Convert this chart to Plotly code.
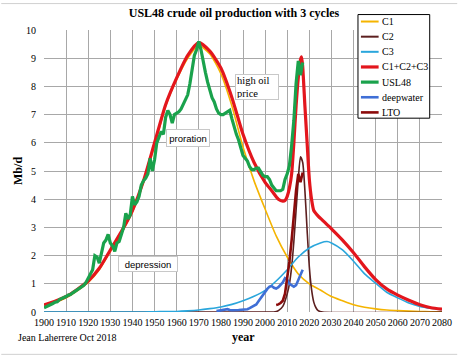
import plotly.graph_objects as go

# ---------------- data ----------------
yr5 = [1900, 1905, 1910, 1915, 1920, 1925, 1930, 1935, 1940, 1945, 1950, 1955, 1960, 1965,
       1970, 1975, 1980, 1985, 1990, 1995, 2000, 2005, 2010, 2015, 2020, 2025, 2030, 2035,
       2040, 2045, 2050, 2055, 2060, 2065, 2070, 2075, 2080]
c1 = [0.2, 0.33, 0.5, 0.75, 1.05, 1.5, 2.15, 2.8, 3.55, 4.6, 5.9, 7.3, 8.25, 9.0,
      9.45, 9.15, 8.45, 7.3, 5.85, 4.65, 3.65, 2.7, 1.95, 1.35, 1.0, 0.78, 0.55, 0.4,
      0.26, 0.17, 0.11, 0.07, 0.05, 0.03, 0.02, 0.01, 0.01]

c3_years = [1900, 1945, 1950, 1955, 1960, 1965, 1970, 1975, 1980, 1985, 1990, 1995, 2000,
            2005, 2010, 2015, 2020, 2025, 2028, 2030, 2035, 2040, 2045, 2050, 2055, 2060,
            2065, 2070, 2075, 2080]
c3 = [0.0, 0.0, 0.01, 0.015, 0.02, 0.04, 0.07, 0.12, 0.18, 0.27, 0.4, 0.56, 0.77,
      1.1, 1.5, 1.95, 2.27, 2.45, 2.5, 2.45, 2.2, 1.8, 1.35, 1.02, 0.7, 0.5,
      0.32, 0.2, 0.13, 0.08]

c2_years = [1900, 2000, 2004, 2006, 2008, 2010, 2011, 2012, 2013, 2014, 2015, 2016, 2017,
            2018, 2019, 2020, 2021, 2022, 2023, 2024, 2026, 2080]
c2 = [0.0, 0.0, 0.0, 0.05, 0.2, 0.65, 1.0, 1.6, 2.5, 3.6, 4.7, 5.5, 5.3,
      4.3, 2.9, 1.6, 0.8, 0.35, 0.15, 0.05, 0.0, 0.0]

sum_years = [1900, 1905, 1910, 1915, 1920, 1925, 1930, 1935, 1940, 1945, 1950, 1955, 1960,
             1965, 1970, 1975, 1980, 1985, 1990, 1995, 2000, 2003, 2006, 2008, 2009, 2010,
             2011, 2012, 2013, 2014, 2015, 2016, 2016.5, 2017, 2018, 2019, 2020, 2021, 2022,
             2024, 2026, 2028, 2030, 2035, 2040, 2045, 2050, 2055, 2060, 2065, 2070, 2075, 2080]
c123 = [0.25, 0.38, 0.55, 0.8, 1.1, 1.55, 2.2, 2.85, 3.6, 4.65, 6.0, 7.35, 8.3,
        9.1, 9.55, 9.25, 8.65, 7.6, 6.3, 5.3, 4.6, 4.3, 4.0, 3.93, 3.95, 4.1,
        4.4, 4.9, 6.0, 7.3, 8.3, 8.95, 9.05, 8.7, 7.3, 6.0, 4.7, 4.0, 3.6,
        3.4, 3.25, 3.1, 2.95, 2.55, 2.1, 1.6, 1.15, 0.82, 0.6, 0.42, 0.26, 0.15, 0.1]

usl_years = list(range(1900, 2018))
usl48 = [0.15, 0.18, 0.22, 0.26, 0.3, 0.35, 0.36, 0.44, 0.47, 0.5,
         0.55, 0.6, 0.62, 0.68, 0.73, 0.77, 0.82, 0.9, 0.95, 1.05,
         1.2, 1.3, 1.5, 2.0, 1.95, 1.73, 2.1, 2.45, 2.55, 2.75,
         2.45, 2.35, 2.15, 2.45, 2.5, 2.75, 3.0, 3.5, 3.3, 3.45,
         4.1, 3.8, 3.9, 4.1, 4.5, 4.65, 4.75, 4.9, 5.45, 5.0,
         5.4, 6.0, 6.2, 6.4, 6.3, 6.9, 7.15, 7.0, 6.7, 7.0,
         7.05, 7.1, 7.2, 7.35, 7.5, 7.7, 8.1, 8.7, 9.1, 9.3,
         9.6, 9.3, 8.85, 8.5, 8.15, 7.85, 7.6, 7.45, 7.2, 7.05,
         7.0, 7.0, 7.05, 7.1, 7.15, 6.85, 6.55, 6.3, 6.1, 5.8,
         5.55, 5.45, 5.35, 5.15, 5.05, 5.05, 5.1, 5.1, 4.95, 4.85,
         4.8, 4.8, 4.7, 4.5, 4.4, 4.3, 4.3, 4.3, 4.35, 4.7,
         4.9, 5.2, 5.9, 6.8, 8.1, 8.9, 8.4, 8.85]

dw_years = [1978, 1980, 1982, 1983, 1984, 1985, 1988, 1990, 1992, 1993, 1994, 1995, 1996,
            1997, 1998, 1999, 2000, 2001, 2002, 2003, 2004, 2005, 2006, 2007, 2008, 2009,
            2010, 2011, 2012, 2013, 2014, 2015, 2016, 2017]
deepwater = [0.03, 0.05, 0.08, 0.1, 0.07, 0.06, 0.07, 0.08, 0.1, 0.14, 0.18, 0.2, 0.27,
             0.38, 0.5, 0.62, 0.72, 0.82, 0.9, 0.92, 0.86, 0.83, 0.88, 0.95, 1.05, 1.2,
             1.15, 1.0, 0.95, 0.9, 0.95, 1.15, 1.35, 1.5]

lto_years = [2005, 2006, 2007, 2008, 2009, 2010, 2011, 2012, 2013, 2014, 2015, 2016, 2017]
lto = [0.25, 0.27, 0.32, 0.4, 0.65, 1.2, 1.8, 2.55, 3.6, 4.3, 4.9, 4.6, 4.95]

x_ticks = list(range(1900, 2081, 10))
y_ticks = list(range(0, 11))

names = ["C1", "C2", "C3", "C1+C2+C3", "USL48", "deepwater", "LTO"]
colors = ["#f5b400", "#5c1f1f", "#2aa6dc", "#e3161d", "#1aa24c", "#3f6fd6", "#8b0a0a"]
widths = [1.6, 1.6, 1.6, 3.2, 3.2, 2.6, 2.6]

series = [(yr5, c1, "spline"), (c2_years, c2, "spline"), (c3_years, c3, "spline"),
          (sum_years, c123, "spline"), (usl_years, usl48, "linear"),
          (dw_years, deepwater, "linear"), (lto_years, lto, "linear")]

fig = go.Figure()
for (xs, ys, shp), nm, col, w in zip(series, names, colors, widths):
    line = dict(color=col, width=w, shape=shp)
    if shp == "spline":
        line["smoothing"] = 0.6
    fig.add_trace(go.Scatter(x=xs, y=ys, mode="lines", name=nm, line=line,
                             showlegend=False))

SERIF = "Liberation Serif, Times New Roman, serif"
SANS = "Liberation Sans, Arial, sans-serif"

# ---------- geometry helpers (pixel -> paper) ----------
L, R, T, B = 43.5, 448.5, 29.5, 312.5
def px(xp):
    return (xp - L) / (R - L)
def py(yp):
    return (B - yp) / (B - T)

shapes = []
annotations = []

# custom legend box
shapes.append(dict(type="rect", xref="paper", yref="paper",
                   x0=px(363), x1=px(436), y0=py(118), y1=py(14),
                   line=dict(color="#000000", width=1), fillcolor="white", layer="above"))
for i, (nm, col, w) in enumerate(zip(names, colors, widths)):
    yc = 21 + i * 15.2
    shapes.append(dict(type="line", xref="paper", yref="paper",
                       x0=px(366), x1=px(384), y0=py(yc), y1=py(yc),
                       line=dict(color=col, width=max(2.0, w)), layer="above"))
    annotations.append(dict(text=nm, xref="paper", yref="paper", x=px(385), y=py(yc),
                            xanchor="left", yanchor="middle", showarrow=False,
                            font=dict(family=SERIF, size=10, color="#000")))

# frame lines of the original picture
shapes.append(dict(type="line", xref="paper", yref="paper", x0=px(0), x1=px(464),
                   y0=py(3), y1=py(3), line=dict(color="#d0d0d0", width=1)))
shapes.append(dict(type="line", xref="paper", yref="paper", x0=px(0), x1=px(464),
                   y0=py(355), y1=py(355), line=dict(color="#d0d0d0", width=1)))

# text boxes on the chart
annotations.append(dict(text="high oil<br>price", x=1996.2, y=7.97, xref="x", yref="y",
                        showarrow=False, align="left", width=40, height=22,
                        bgcolor="white", bordercolor="#c8c8c8", borderwidth=1, borderpad=1,
                        font=dict(family=SERIF, size=10.5, color="#000")))
annotations.append(dict(text="proration", x=1965.1, y=6.17, xref="x", yref="y",
                        showarrow=False, width=42, height=16,
                        bgcolor="white", bordercolor="#c8c8c8", borderwidth=1, borderpad=0,
                        font=dict(family=SANS, size=9.5, color="#000")))
annotations.append(dict(text="depression", x=1946.9, y=1.71, xref="x", yref="y",
                        showarrow=False, width=58, height=14,
                        bgcolor="white", bordercolor="#c8c8c8", borderwidth=1, borderpad=0,
                        font=dict(family=SANS, size=9.5, color="#000")))

# axis titles and credit
annotations.append(dict(text="<b>Mb/d</b>", xref="paper", yref="paper", x=px(17), y=py(171),
                        textangle=-90, showarrow=False, xanchor="center", yanchor="middle",
                        font=dict(family=SERIF, size=12, color="#000")))
annotations.append(dict(text="<b>year</b>", xref="paper", yref="paper", x=px(246), y=py(338),
                        showarrow=False, xanchor="center", yanchor="middle",
                        font=dict(family=SERIF, size=12, color="#000")))
annotations.append(dict(text="Jean Laherrere Oct 2018", xref="paper", yref="paper",
                        x=px(15), y=py(338), showarrow=False, xanchor="left", yanchor="middle",
                        font=dict(family=SERIF, size=10, color="#000")))

fig.update_layout(
    width=464, height=360,
    margin=dict(l=L, r=464 - R, t=T, b=360 - B, pad=0),
    paper_bgcolor="white", plot_bgcolor="white",
    title=dict(text="<b>USL48 crude oil production with 3 cycles</b>",
               x=234 / 464, xanchor="center", y=1 - 13 / 360, yanchor="middle",
               font=dict(family=SERIF, size=12, color="#000")),
    xaxis=dict(range=[1900, 2080], tickvals=x_ticks, ticktext=[str(v) for v in x_ticks],
               tickangle=0, showgrid=True, gridcolor="#a8a8a8", gridwidth=1,
               zeroline=False, showline=False, ticks="", ticklabelstandoff=3,
               tickfont=dict(family=SERIF, size=10, color="#000")),
    yaxis=dict(range=[0, 10], tickvals=y_ticks, showgrid=True, gridcolor="#a8a8a8",
               gridwidth=1, zeroline=False, showline=False, ticks="", ticklabelstandoff=7,
               tickfont=dict(family=SERIF, size=10, color="#000")),
    shapes=shapes, annotations=annotations, showlegend=False,
)

fig.write_html("out.html", config={"displayModeBar": False},
               post_script="document.body.style.margin='0';document.body.style.padding='0';")
